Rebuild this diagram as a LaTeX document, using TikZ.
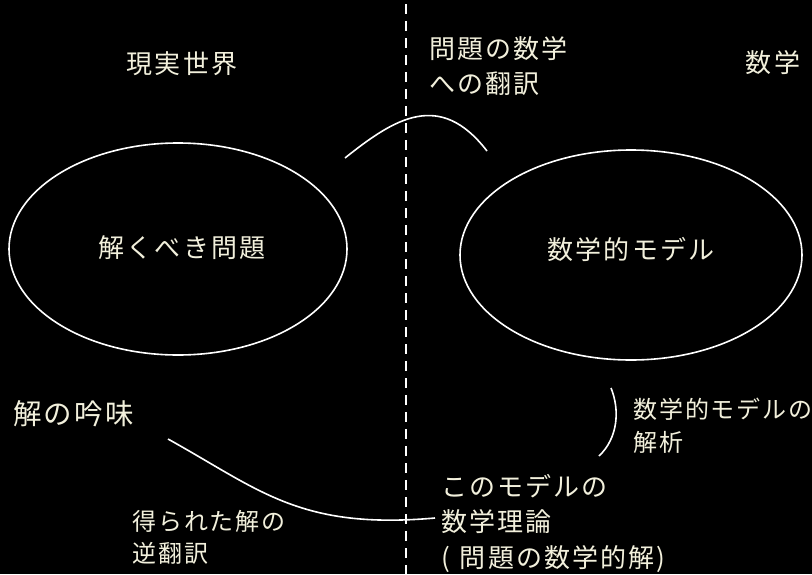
\documentclass[tikz,border=0pt]{standalone}
\usepackage{fontspec}
\usetikzlibrary{shapes.geometric}
\newfontfamily\jp[LetterSpace=8]{Noto Sans CJK JP}
\definecolor{txt}{HTML}{F2F0DC}
\begin{document}
\begin{tikzpicture}[x=1pt,y=-1pt,
  lbl/.style={text=txt,font=\jp\fontsize{26}{35.5}\selectfont,inner sep=0pt},
  lbls/.style={text=txt,font=\jp\fontsize{24}{32.5}\selectfont,inner sep=0pt},
  oval/.style={draw=white,line width=1.6pt,ellipse,minimum width=338pt,minimum height=212pt,inner sep=0pt},
  conn/.style={draw=white,line width=1.6pt}]
\fill[black] (0,0) rectangle (812,574);
\useasboundingbox (0,0) rectangle (812,574);
\draw[white,line width=1.6pt,dash pattern=on 10pt off 7pt] (406,4) -- (406,574);
\node[oval] (e1) at (178,249) {};
\node[oval,minimum width=342pt,minimum height=210pt] (e2) at (631,255) {};
\node[lbl] (t1) at (182,64) {現実世界};
\node[lbl,align=left,anchor=north west] (t2) at (429,36) {問題の数学\\への翻訳};
\node[lbl] (t3) at (773,63) {数学};
\node[lbl] (t4) at (182,248) {解くべき問題};
\node[lbl] (t5) at (631,249) {数学的モデル};
\node[lbl,font=\jp\fontsize{28.5}{36}\selectfont,anchor=west] (t6) at (13,414) {解の吟味};
\node[lbls,align=left,anchor=north west] (t7) at (633,398) {数学的モデルの\\解析};
\node[lbl,align=left,anchor=north west] (t8) at (441,474) {このモデルの\\数学理論\\(\hspace{10pt}問題の数学的解)};
\node[lbls,align=left,anchor=north west] (t9) at (132,510) {得られた解の\\逆翻訳};
\coordinate (a1) at (345,158);
\coordinate (a2) at (487,151);
\draw[conn] (a1) .. controls (395,118) and (440,90) .. (a2);
\coordinate (b1) at (611,388);
\coordinate (b2) at (599,456);
\draw[conn] (b1) .. controls (620,410) and (618,438) .. (b2);
\coordinate (c1) at (168,439);
\coordinate (c2) at (435,518);
\draw[conn] (c1) .. controls (260,490) and (300,530) .. (c2);
\end{tikzpicture}
\end{document}
